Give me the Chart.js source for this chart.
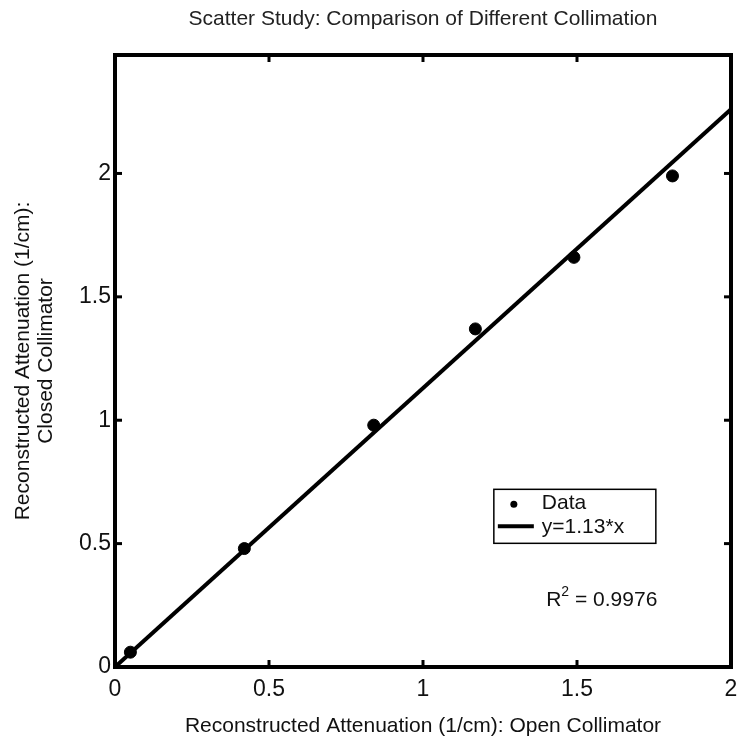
<!DOCTYPE html>
<html><head><meta charset="utf-8">
<script src="https://cdn.jsdelivr.net/npm/chart.js@4/dist/chart.umd.min.js"></script>
<style>html,body{margin:0;padding:0;background:#fff}#wrap{width:747px;height:743px}</style>
</head><body><div id="wrap"><canvas id="c" width="747" height="743"></canvas></div>
<script>
const dataX = [0.05, 0.42, 0.84, 1.17, 1.49, 1.81];
const dataY = [0.06, 0.48, 0.98, 1.37, 1.66, 1.99];
const fitSlope = 1.13;
const fitX = [0, 2];
const xTicks = [0, 0.5, 1, 1.5, 2];
const yTicks = [0, 0.5, 1, 1.5, 2];
const tickLabels = ['0', '0.5', '1', '1.5', '2'];
const titleText = 'Scatter Study: Comparison of Different Collimation';
const xTitle = 'Reconstructed Attenuation (1/cm): Open Collimator';
const yTitle = ['Reconstructed Attenuation (1/cm):', 'Closed Collimator'];
const legendLabels = ['Data', 'y=1.13*x'];
const r2Text = '0.9976';

const FONT = '"Liberation Sans", Arial, sans-serif';
const labelFor = v => { const i = xTicks.indexOf(v); return i >= 0 ? tickLabels[i] : ''; };

const framePlugin = {
  id: 'frame',
  afterDatasetsDraw(chart) {
    const {ctx, chartArea: a, scales: {x, y}} = chart;
    ctx.save();
    ctx.strokeStyle = '#000';
    ctx.lineWidth = 4;
    ctx.strokeRect(a.left, a.top, a.right - a.left, a.bottom - a.top);
    ctx.lineWidth = 3;
    const tl = 7;
    xTicks.forEach(v => {
      const px = x.getPixelForValue(v);
      ctx.beginPath(); ctx.moveTo(px, a.bottom); ctx.lineTo(px, a.bottom - tl); ctx.stroke();
      ctx.beginPath(); ctx.moveTo(px, a.top); ctx.lineTo(px, a.top + tl); ctx.stroke();
    });
    yTicks.forEach(v => {
      const py = y.getPixelForValue(v);
      ctx.beginPath(); ctx.moveTo(a.left, py); ctx.lineTo(a.left + tl, py); ctx.stroke();
      ctx.beginPath(); ctx.moveTo(a.right, py); ctx.lineTo(a.right - tl, py); ctx.stroke();
    });
    // title
    ctx.fillStyle = '#222';
    ctx.font = '21px ' + FONT;
    ctx.textAlign = 'center'; ctx.textBaseline = 'middle';
    ctx.fillText(titleText, (a.left + a.right) / 2, 19);
    // legend box
    const lx = x.getPixelForValue(1.23), ly = y.getPixelForValue(0.72);
    const lw = 162, lh = 54;
    ctx.fillStyle = '#fff';
    ctx.fillRect(lx, ly, lw, lh);
    ctx.lineWidth = 1.5;
    ctx.strokeStyle = '#000';
    ctx.strokeRect(lx, ly, lw, lh);
    ctx.fillStyle = '#000';
    ctx.beginPath(); ctx.arc(lx + 20, ly + 15, 3.5, 0, Math.PI * 2); ctx.fill();
    ctx.lineWidth = 4;
    ctx.beginPath(); ctx.moveTo(lx + 4, ly + 37); ctx.lineTo(lx + 40, ly + 37); ctx.stroke();
    ctx.font = '21px ' + FONT;
    ctx.textAlign = 'left';
    ctx.fillStyle = '#111';
    ctx.fillText(legendLabels[0], lx + 48, ly + 14);
    ctx.fillText(legendLabels[1], lx + 48, ly + 38);
    // R^2
    const rx = x.getPixelForValue(1.4), ry = y.getPixelForValue(0.27);
    ctx.font = '21px ' + FONT;
    ctx.fillText('R', rx, ry);
    const rw = ctx.measureText('R').width;
    ctx.font = '14px ' + FONT;
    ctx.fillText('2', rx + rw, ry - 8);
    const tw = ctx.measureText('2').width;
    ctx.font = '21px ' + FONT;
    ctx.fillText(' = ' + r2Text, rx + rw + tw, ry);
    ctx.restore();
  }
};

new Chart(document.getElementById('c'), {
  type: 'scatter',
  data: {
    datasets: [
      {
        label: legendLabels[0],
        data: dataX.map((v, i) => ({x: v, y: dataY[i]})),
        backgroundColor: '#000', borderColor: '#000',
        pointRadius: 6, pointHoverRadius: 6, order: 0
      },
      {
        type: 'line',
        label: legendLabels[1],
        data: fitX.map(v => ({x: v, y: fitSlope * v})),
        borderColor: '#000', borderWidth: 4, pointRadius: 0, fill: false, order: 1
      }
    ]
  },
  options: {
    responsive: false, animation: false,
    layout: {padding: {top: 55, right: 16, left: 0, bottom: 0}},
    plugins: {legend: {display: false}, tooltip: {enabled: false}},
    scales: {
      x: {
        type: 'linear', min: 0, max: 2,
        afterBuildTicks: s => { s.ticks = xTicks.map(v => ({value: v})); },
        afterFit: s => { s.height = 76; s.paddingRight = 0; s.paddingLeft = 0; },
        grid: {display: false, drawTicks: false},
        border: {display: false},
        ticks: {font: {size: 23, family: FONT}, color: '#111', padding: 9, callback: v => labelFor(v)},
        title: {display: true, text: xTitle, font: {size: 21, family: FONT}, color: '#111', padding: {top: 2}}
      },
      y: {
        type: 'linear', min: 0, max: 2.48,
        afterBuildTicks: s => { s.ticks = yTicks.map(v => ({value: v})); },
        afterFit: s => { s.width = 115; s.paddingTop = 0; s.paddingBottom = 0; },
        grid: {display: false, drawTicks: false},
        border: {display: false},
        ticks: {font: {size: 23, family: FONT}, color: '#111', padding: 4, callback: v => labelFor(v)},
        title: {display: true, text: yTitle, font: {size: 21, family: FONT, lineHeight: 1.1}, color: '#111', padding: {top: 12, bottom: 8}}
      }
    }
  },
  plugins: [framePlugin]
});
</script></body></html>
